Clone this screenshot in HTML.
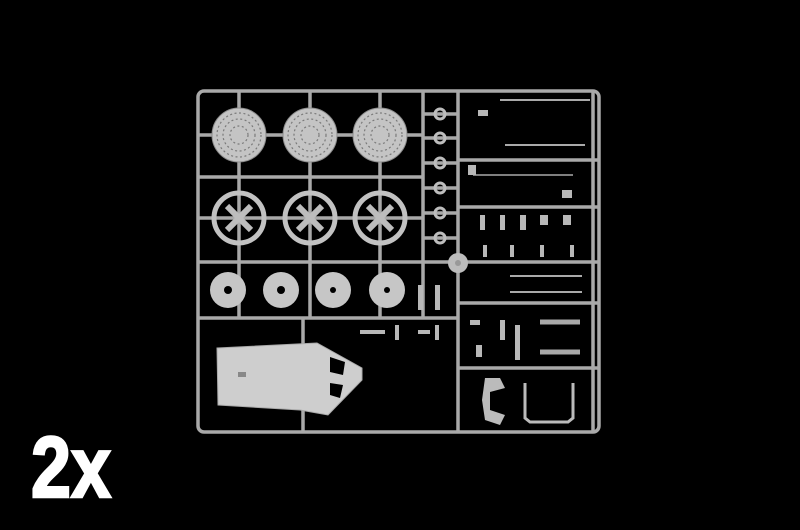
<!DOCTYPE html>
<html><head><style>html,body{margin:0;padding:0;background:#000;}svg{display:block}</style></head><body>
<svg width="800" height="530" viewBox="0 0 800 530" xmlns="http://www.w3.org/2000/svg">
<rect width="800" height="530" fill="#000"/>
<g stroke="#a9a9a9" fill="none" stroke-width="3.5">
<rect x="198" y="91" width="401" height="341" rx="6"/>
<line x1="198" y1="177" x2="423" y2="177"/>
<line x1="198" y1="262" x2="599" y2="262"/>
<line x1="198" y1="318" x2="458" y2="318"/>
<line x1="423" y1="91" x2="423" y2="318"/>
<line x1="458" y1="91" x2="458" y2="432"/>
<line x1="303" y1="318" x2="303" y2="432"/>
<line x1="458" y1="160" x2="599" y2="160"/>
<line x1="458" y1="207" x2="599" y2="207"/>
<line x1="458" y1="303" x2="599" y2="303"/>
<line x1="458" y1="368" x2="599" y2="368"/>
<line x1="593" y1="91" x2="593" y2="432"/>
<line x1="239" y1="91" x2="239" y2="318"/>
<line x1="310" y1="91" x2="310" y2="318"/>
<line x1="380" y1="91" x2="380" y2="318"/>
<line x1="198" y1="135" x2="423" y2="135"/>
<line x1="198" y1="218" x2="423" y2="218"/>
<line x1="423" y1="114" x2="458" y2="114"/><line x1="423" y1="138" x2="458" y2="138"/>
<line x1="423" y1="163" x2="458" y2="163"/><line x1="423" y1="188" x2="458" y2="188"/>
<line x1="423" y1="213" x2="458" y2="213"/><line x1="423" y1="238" x2="458" y2="238"/>
<line x1="500" y1="100" x2="590" y2="100" stroke-width="2"/>
<line x1="505" y1="145" x2="585" y2="145" stroke-width="2"/>
<line x1="510" y1="276" x2="582" y2="276" stroke-width="2"/>
<line x1="510" y1="292" x2="582" y2="292" stroke-width="2"/>
<line x1="540" y1="322" x2="580" y2="322" stroke-width="5"/>
<line x1="540" y1="352" x2="580" y2="352" stroke-width="5"/>
<line x1="473" y1="175" x2="573" y2="175" stroke-width="1.5"/>
</g>
<g fill="#c4c4c4" stroke="#8d8d8d" stroke-width="1">
<circle cx="239" cy="135" r="27"/><circle cx="310" cy="135" r="27"/><circle cx="380" cy="135" r="27"/>
</g>
<g fill="none" stroke="#7a7a7a" stroke-width="1.2" stroke-dasharray="2 2.5">
<circle cx="239" cy="135" r="22"/><circle cx="310" cy="135" r="22"/><circle cx="380" cy="135" r="22"/>
<circle cx="239" cy="135" r="16"/><circle cx="310" cy="135" r="16"/><circle cx="380" cy="135" r="16"/>
<circle cx="239" cy="135" r="9"/><circle cx="310" cy="135" r="9"/><circle cx="380" cy="135" r="9"/>
</g>
<g fill="none" stroke="#c2c2c2" stroke-width="5">
<circle cx="239" cy="218" r="25"/><circle cx="310" cy="218" r="25"/><circle cx="380" cy="218" r="25"/>
</g>
<g stroke="#bdbdbd" stroke-width="6">
<line x1="227" y1="206" x2="251" y2="230"/><line x1="251" y1="206" x2="227" y2="230"/>
<line x1="298" y1="206" x2="322" y2="230"/><line x1="322" y1="206" x2="298" y2="230"/>
<line x1="368" y1="206" x2="392" y2="230"/><line x1="392" y1="206" x2="368" y2="230"/>
</g>
<g fill="#c6c6c6">
<circle cx="228" cy="290" r="18"/><circle cx="281" cy="290" r="18"/><circle cx="333" cy="290" r="18"/><circle cx="387" cy="290" r="18"/>
</g>
<g fill="#000"><circle cx="228" cy="290" r="4"/><circle cx="281" cy="290" r="4"/><circle cx="333" cy="290" r="3"/><circle cx="387" cy="290" r="3"/></g>
<g fill="none" stroke="#bdbdbd" stroke-width="3">
<circle cx="440" cy="114" r="5"/><circle cx="440" cy="138" r="5"/><circle cx="440" cy="163" r="5"/>
<circle cx="440" cy="188" r="5"/><circle cx="440" cy="213" r="5"/><circle cx="440" cy="238" r="5"/>
</g>
<circle cx="458" cy="263" r="10" fill="#bcbcbc"/><circle cx="458" cy="263" r="3" fill="#999"/>
<path d="M217 348 L317 343 L362 368 L362 380 L328 415 L300 410 L218 405 Z" fill="#cecece" stroke="#aaa"/>
<path d="M330 357 L345 362 L343 375 L330 372 Z M330 383 L343 385 L340 398 L330 395 Z" fill="#000"/>
<rect x="238" y="372" width="8" height="5" fill="#888"/>
<path d="M525 383 L525 418 L530 422 L568 422 L573 418 L573 383" fill="none" stroke="#bbb" stroke-width="3"/>
<path d="M485 378 L500 378 L505 388 L490 392 L490 410 L505 415 L500 425 L485 420 L482 400 Z" fill="#bbb"/>
<g fill="#b8b8b8">
<rect x="478" y="110" width="10" height="6"/><rect x="468" y="165" width="8" height="10"/><rect x="562" y="190" width="10" height="8"/>
<rect x="480" y="215" width="5" height="15"/><rect x="500" y="215" width="5" height="15"/><rect x="520" y="215" width="6" height="15"/>
<rect x="540" y="215" width="8" height="10"/><rect x="563" y="215" width="8" height="10"/>
<rect x="483" y="245" width="4" height="12"/><rect x="510" y="245" width="4" height="12"/><rect x="540" y="245" width="4" height="12"/><rect x="570" y="245" width="4" height="12"/>
<rect x="470" y="320" width="10" height="5"/><rect x="500" y="320" width="5" height="20"/><rect x="476" y="345" width="6" height="12"/>
<rect x="515" y="325" width="5" height="35"/>
<rect x="418" y="285" width="5" height="25"/><rect x="435" y="285" width="5" height="25"/>
<rect x="360" y="330" width="25" height="4"/><rect x="395" y="325" width="4" height="15"/><rect x="418" y="330" width="12" height="4"/>
<rect x="435" y="325" width="4" height="15"/>
</g>
<text x="31" y="497" fill="#fff" stroke="#fff" stroke-width="2.5" font-family="Liberation Sans, sans-serif" font-weight="bold" font-size="86" textLength="80" lengthAdjust="spacingAndGlyphs">2x</text>
</svg>
</body></html>
